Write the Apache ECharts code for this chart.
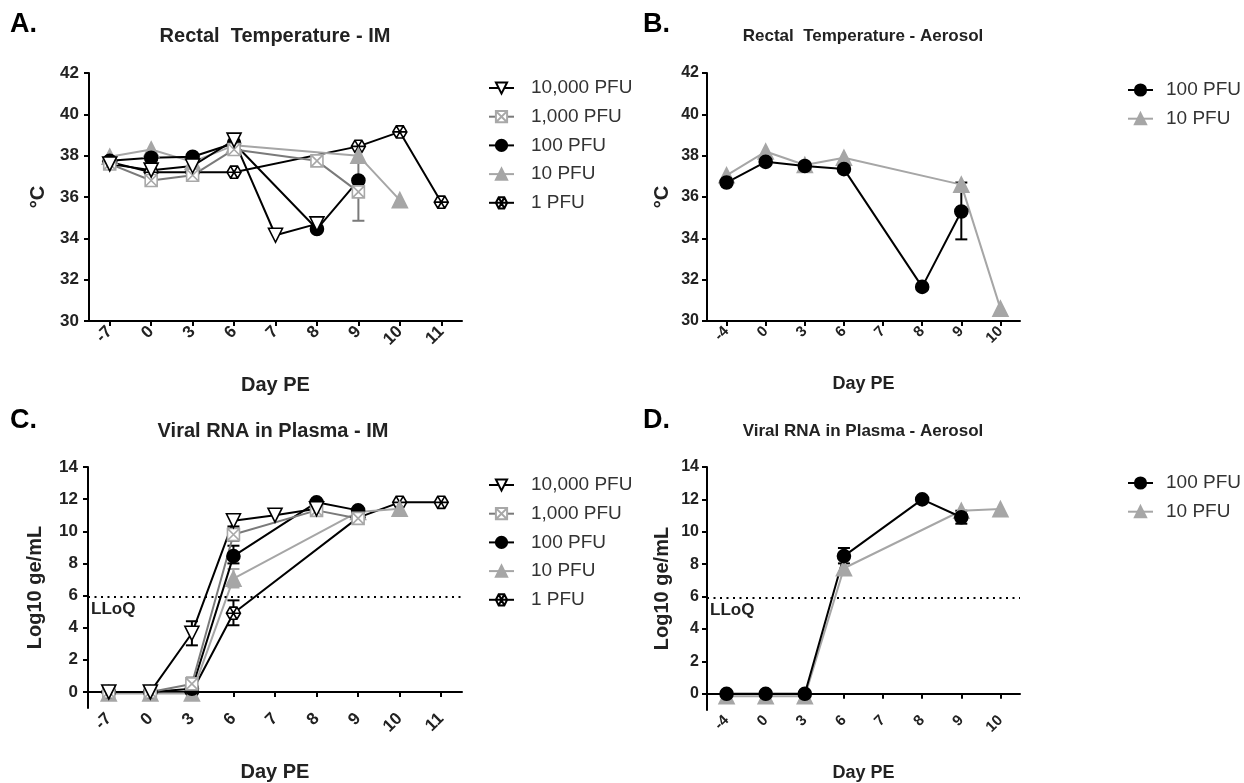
<!DOCTYPE html>
<html><head><meta charset="utf-8">
<script src="https://cdn.jsdelivr.net/npm/echarts@6/dist/echarts.min.js"></script>
<style>html,body{margin:0;padding:0;background:#fff}#c{width:1244px;height:783px}</style>
</head><body><div id="c"></div><script>
// ---------- categories & ticks ----------
const daysIM = ['-7','0','3','6','7','8','9','10','11'];
const daysAero = ['-4','0','3','6','7','8','9','10'];
const tempTicks = [30,32,34,36,38,40,42];
const rnaTicks = [0,2,4,6,8,10,12,14];
const lloq = 5.9;

// ---------- A: Rectal temperature - IM ----------
const tempIM_10000 = [37.6, 37.3, 37.5, 38.75, 34.15, 34.7, null, null, null];
const tempIM_1000  = [37.6, 36.8, 37.05, 38.3, null, 37.75, 36.25, null, null];
const tempIM_100   = [37.75, 37.9, 37.95, 38.6, null, 34.45, 36.8, null, null];
const tempIM_10    = [37.95, 38.3, 37.7, 38.5, null, null, 38.0, 35.85, null];
const tempIM_1     = [37.7, 37.2, 37.2, 37.2, null, null, 38.45, 39.15, 35.75];
const errTempIM_1000 = [['9', 34.85, 37.65]];

// ---------- B: Rectal temperature - Aerosol ----------
const tempAero_100 = [36.7, 37.7, 37.5, 37.35, null, 31.65, 35.3, null];
const tempAero_10  = [37.05, 38.2, 37.55, 37.9, null, null, 36.6, 30.6];
const errTempAero_100 = [['9', 33.95, 36.7]];

// ---------- C: Viral RNA in plasma - IM ----------
const rnaIM_10000 = [0, 0, 3.65, 10.65, 11.0, 11.4, null, null, null];
const rnaIM_1000  = [0, 0, 0.5, 9.8, null, 11.3, 10.8, null, null];
const rnaIM_100   = [0, 0, 0.2, 8.45, null, 11.8, 11.3, null, null];
const rnaIM_10    = [-0.1, -0.1, -0.1, 7.05, null, null, 11.2, 11.4, null];
const rnaIM_1     = [0, 0, 0, 4.9, null, null, 10.85, 11.8, 11.8];
const errRnaIM_10000 = [['3', 2.9, 4.4], ['6', 10.3, 11.0]];
const errRnaIM_1000  = [['3', 0.1, 0.9], ['6', 9.4, 10.2]];
const errRnaIM_100   = [['6', 8.0, 9.1]];
const errRnaIM_10    = [['6', 6.5, 7.65]];
const errRnaIM_1     = [['6', 4.15, 5.7]];

// ---------- D: Viral RNA in plasma - Aerosol ----------
const rnaAero_100 = [0, 0, 0, 8.5, null, 12.0, 10.9, null];
const rnaAero_10  = [-0.15, -0.15, -0.15, 7.75, null, null, 11.3, 11.4];
const errRnaAero_100 = [['6', 8.05, 9.0], ['9', 10.5, 11.3]];

// ---------- styles ----------
const FONT = '"Liberation Sans", Arial, Helvetica, sans-serif';
const boxX = 'path://M0,0 L10,0 L10,10 L0,10 Z M0,0 L10,10 M10,0 L0,10';
const hexStar = 'path://M-1,0 L-0.5,-0.866 L0.5,-0.866 L1,0 L0.5,0.866 L-0.5,0.866 Z M-1,0 L1,0 M-0.5,-0.866 L0.5,0.866 M0.5,-0.866 L-0.5,0.866';
const doseStyle = {
  '10,000 PFU': {symbol:'triangle', rot:180, size:14, fill:'#ffffff', border:'#000000', line:'#000000'},
  '1,000 PFU':  {symbol:boxX, rot:0, size:12, fill:'#ffffff', border:'#a8a8a8', line:'#7a7a7a'},
  '100 PFU':    {symbol:'circle', rot:0, size:13, fill:'#000000', border:'#000000', line:'#000000'},
  '10 PFU':     {symbol:'triangle', rot:0, size:15, fill:'#a6a6a6', border:'#a6a6a6', line:'#a6a6a6'},
  '1 PFU':      {symbol:hexStar, rot:0, size:14, fill:'#ffffff', border:'#000000', line:'#000000'}
};
const errColor = {'10,000 PFU':'#000','1,000 PFU':'#7a7a7a','100 PFU':'#000','10 PFU':'#a6a6a6','1 PFU':'#000'};

function lineSeries(name, data, idx, extra) {
  const s = doseStyle[name];
  return Object.assign({
    type:'line', name, data, xAxisIndex:idx, yAxisIndex:idx,
    connectNulls:true, symbol:s.symbol, symbolRotate:s.rot, symbolSize:s.size,
    symbolKeepAspect:true, showAllSymbol:true, z:3,
    itemStyle:{color:s.fill, borderColor:s.border, borderWidth:1.6},
    lineStyle:{color:s.line, width:2},
    emphasis:{disabled:true}, animation:false
  }, extra || {});
}
function errSeries(name, arr, idx, cats) {
  const color = errColor[name];
  return {
    type:'custom', name: name + ' err', xAxisIndex:idx, yAxisIndex:idx, z:2, silent:true,
    encode:{x:0, y:[1,2]},
    data: arr.map(d => [cats.indexOf(d[0]), d[1], d[2]]),
    renderItem(params, api) {
      const lo = api.coord([api.value(0), api.value(1)]);
      const hi = api.coord([api.value(0), api.value(2)]);
      const w = 6, st = {stroke:color, lineWidth:2};
      return {type:'group', children:[
        {type:'line', shape:{x1:lo[0],y1:lo[1],x2:hi[0],y2:hi[1]}, style:st},
        {type:'line', shape:{x1:lo[0]-w,y1:lo[1],x2:lo[0]+w,y2:lo[1]}, style:st},
        {type:'line', shape:{x1:hi[0]-w,y1:hi[1],x2:hi[0]+w,y2:hi[1]}, style:st}
      ]};
    },
    animation:false
  };
}

const axisLineStyle = {lineStyle:{color:'#000', width:2}};
function xAxis(idx, cats, big) {
  return {type:'category', gridIndex:idx, data:cats, boundaryGap:true,
    axisLine:axisLineStyle,
    axisTick:{show:true, alignWithLabel:true, length:5, lineStyle:{color:'#000', width:2}},
    axisLabel:{rotate:45, color:'#222', fontWeight:'bold', fontSize: big ? 17 : 15, fontFamily:FONT, margin:8},
    name:'Day PE', nameLocation:'middle', nameGap: 54,
    nameTextStyle:{color:'#222', fontWeight:'bold', fontSize: big ? 20 : 18, fontFamily:FONT},
    splitLine:{show:false}};
}
function yTemp(idx, big) {
  return {type:'value', gridIndex:idx, min:tempTicks[0], max:tempTicks[tempTicks.length-1], interval:2,
    axisLine:{show:true, lineStyle:{color:'#000', width:2}},
    axisTick:{show:true, length:5, lineStyle:{color:'#000', width:2}},
    axisLabel:{color:'#222', fontWeight:'bold', fontSize: big ? 17 : 16, fontFamily:FONT, margin: big ? 10 : 8},
    splitLine:{show:false},
    name:'°C', nameLocation:'middle', nameGap: big ? 41 : 35,
    nameTextStyle:{color:'#222', fontWeight:'bold', fontSize:20, fontFamily:FONT}};
}
function yRna(idx, big) {
  return {type:'value', gridIndex:idx, min:-1, max:14,
    axisLine:{show:true, lineStyle:{color:'#000', width:2}},
    axisTick:{show:true, length:5, lineStyle:{color:'#000', width:2}, customValues:rnaTicks},
    axisLabel:{color:'#222', fontWeight:'bold', fontSize: big ? 17 : 16, fontFamily:FONT, margin: big ? 10 : 8, customValues:rnaTicks},
    splitLine:{show:false},
    name:'Log10 ge/mL', nameLocation:'middle', nameGap: big ? 43 : 35,
    nameTextStyle:{color:'#222', fontWeight:'bold', fontSize:20, fontFamily:FONT}};
}
function lloqLine() {
  return {silent:true, symbol:['none','none'],
    lineStyle:{color:'#000', type:[2,4.5], width:2},
    label:{show:true, position:'insideStartBottom', formatter:'LLoQ', color:'#222',
      fontWeight:'bold', fontSize:17, fontFamily:FONT, distance:[3,4]},
    data:[{yAxis:lloq}]};
}

const imNames = ['10,000 PFU','1,000 PFU','100 PFU','10 PFU','1 PFU'];
const aeroNames = ['100 PFU','10 PFU'];

function legend(names, left, top, pad) {
  return {data:names, orient:'vertical', left, top, padding:0, itemWidth:25, itemHeight:14, itemGap:9.7,
    textStyle:{color:'#333', fontSize:19, fontFamily:FONT, padding:[0,0,0,pad]},
    selectedMode:false};
}

function title(text, x, y, size, weight) {
  return {type:'text', x, y, style:{text, fill:'#222', font: weight + ' ' + size + 'px ' + FONT,
    textAlign:'center', textVerticalAlign:'middle'}};
}
function label(text, x, y) {
  return {type:'text', x, y, style:{text, fill:'#000', font:'bold 27px ' + FONT,
    textAlign:'left', textVerticalAlign:'middle'}};
}

const series = [
  // A
  errSeries('1,000 PFU', errTempIM_1000, 0, daysIM),
  lineSeries('1 PFU', tempIM_1, 0),
  lineSeries('10 PFU', tempIM_10, 0),
  lineSeries('100 PFU', tempIM_100, 0),
  lineSeries('1,000 PFU', tempIM_1000, 0),
  lineSeries('10,000 PFU', tempIM_10000, 0),
  // B
  errSeries('100 PFU', errTempAero_100, 1, daysAero),
  lineSeries('10 PFU', tempAero_10, 1),
  lineSeries('100 PFU', tempAero_100, 1),
  // C
  errSeries('10,000 PFU', errRnaIM_10000, 2, daysIM),
  errSeries('1,000 PFU', errRnaIM_1000, 2, daysIM),
  errSeries('100 PFU', errRnaIM_100, 2, daysIM),
  errSeries('10 PFU', errRnaIM_10, 2, daysIM),
  errSeries('1 PFU', errRnaIM_1, 2, daysIM),
  lineSeries('1 PFU', rnaIM_1, 2, {markLine: lloqLine()}),
  lineSeries('10 PFU', rnaIM_10, 2),
  lineSeries('100 PFU', rnaIM_100, 2),
  lineSeries('1,000 PFU', rnaIM_1000, 2),
  lineSeries('10,000 PFU', rnaIM_10000, 2),
  // D
  errSeries('100 PFU', errRnaAero_100, 3, daysAero),
  lineSeries('10 PFU', rnaAero_10, 3, {markLine: lloqLine()}),
  lineSeries('100 PFU', rnaAero_100, 3)
];

const chart = echarts.init(document.getElementById('c'), null, {renderer:'canvas'});
chart.setOption({
  backgroundColor:'#ffffff',
  animation:false,
  grid:[
    {left:89, top:73, width:373, height:248},
    {left:707, top:73, width:313, height:248},
    {left:88, top:467, width:374, height:249},
    {left:707, top:467, width:313, height:249}
  ],
  xAxis:[xAxis(0, daysIM, true), xAxis(1, daysAero, false), xAxis(2, daysIM, true), xAxis(3, daysAero, false)],
  yAxis:[yTemp(0, true), yTemp(1, false), yRna(2, true), yRna(3, false)],
  legend:[
    legend(imNames, 488, 78.5, 12),
    legend(aeroNames, 1127, 80.5, 8),
    legend(imNames, 488, 475.5, 12),
    legend(aeroNames, 1127, 473.5, 8)
  ],
  graphic:[
    label('A.', 10, 25), label('B.', 643, 25), label('C.', 10, 421), label('D.', 643, 421),
    title('Rectal  Temperature - IM', 275, 36, 20, 'bold'),
    title('Rectal  Temperature - Aerosol', 863, 36, 17, 'bold'),
    title('Viral RNA in Plasma - IM', 273, 431, 20, 'bold'),
    title('Viral RNA in Plasma - Aerosol', 863, 431, 17, 'bold')
  ],
  series
});
</script></body></html>
